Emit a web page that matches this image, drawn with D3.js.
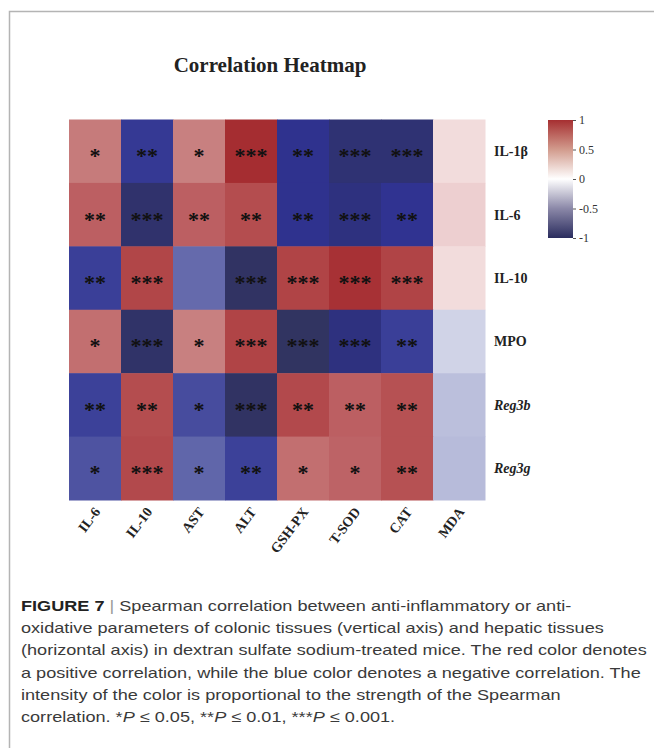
<!DOCTYPE html>
<html>
<head>
<meta charset="utf-8">
<script src="https://cdn.jsdelivr.net/npm/d3@7"></script>
<style>
  body { margin: 0; background: #fff; }
  svg { display: block; }
</style>
</head>
<body>
<svg id="fig" width="654" height="748"></svg>
<script>
// Colonic parameters (rows) vs hepatic parameters (columns)
const rowLabels = ["IL-1β", "IL-6", "IL-10", "MPO", "Reg3b", "Reg3g"];
const italicRows = ["Reg3b", "Reg3g"];
const colLabels = ["IL-6", "IL-10", "AST", "ALT", "GSH-PX", "T-SOD", "CAT", "MDA"];

// Spearman rho, one array per row
const rhoIL1b  = [0.46, -0.68, 0.44, 0.97, -0.76, -0.88, -0.88, 0.10];
const rhoIL6   = [0.60, -0.92, 0.60, 0.70, -0.76, -0.82, -0.74, 0.15];
const rhoIL10  = [-0.62, 0.74, -0.42, -0.97, 0.75, 0.93, 0.75, 0.10];
const rhoMPO   = [0.52, -0.94, 0.44, 0.75, -0.98, -0.82, -0.62, -0.13];
const rhoReg3b = [-0.60, 0.70, -0.55, -0.97, 0.72, 0.60, 0.68, -0.20];
const rhoReg3g = [-0.52, 0.72, -0.44, -0.60, 0.52, 0.58, 0.68, -0.21];

// Significance marks, one array per row
const sigIL1b  = ["*", "**", "*", "***", "**", "***", "***", ""];
const sigIL6   = ["**", "***", "**", "**", "**", "***", "**", ""];
const sigIL10  = ["**", "***", "", "***", "***", "***", "***", ""];
const sigMPO   = ["*", "***", "*", "***", "***", "***", "**", ""];
const sigReg3b = ["**", "**", "*", "***", "**", "**", "**", ""];
const sigReg3g = ["*", "***", "*", "**", "*", "*", "**", ""];

const legendTicks = [1, 0.5, 0, -0.5, -1];

const titleText = "Correlation Heatmap";

// Caption: each line is a list of [text, style] segments
const captionLines = [
  [["FIGURE 7", "bold"], [" | ", "sep"], ["Spearman correlation between anti-inflammatory or anti-", ""]],
  [["oxidative parameters of colonic tissues (vertical axis) and hepatic tissues", ""]],
  [["(horizontal axis) in dextran sulfate sodium-treated mice. The red color denotes", ""]],
  [["a positive correlation, while the blue color denotes a negative correlation. The", ""]],
  [["intensity of the color is proportional to the strength of the Spearman", ""]],
  [["correlation. *", ""], ["P", "ital"], [" ≤ 0.05, **", ""], ["P", "ital"], [" ≤ 0.01, ***", ""], ["P", "ital"], [" ≤ 0.001.", ""]]
];

const rhoRows = [rhoIL1b, rhoIL6, rhoIL10, rhoMPO, rhoReg3b, rhoReg3g];
const sigRows = [sigIL1b, sigIL6, sigIL10, sigMPO, sigReg3b, sigReg3g];

const cells = [];
rowLabels.forEach((r, i) => {
  colLabels.forEach((c, j) => {
    cells.push({ row: r, col: c, rho: rhoRows[i][j], sig: sigRows[i][j] });
  });
});

const serif = "'Liberation Serif', 'Times New Roman', serif";
const sans = "'Liberation Sans', Arial, Helvetica, sans-serif";

const svg = d3.select("#fig");

// Frame
svg.append("path")
  .attr("d", "M9.5,748 L9.5,11.5 L654,11.5")
  .attr("fill", "none")
  .attr("stroke", "#b4b4b4")
  .attr("stroke-width", 1.5);

// Title
svg.append("text")
  .attr("x", 270).attr("y", 72)
  .attr("text-anchor", "middle")
  .attr("font-family", serif)
  .attr("font-weight", "bold")
  .attr("font-size", 21)
  .attr("fill", "#222")
  .text(titleText);

// Scales
const x = d3.scaleBand().domain(colLabels).range([69, 485]).padding(0);
const y = d3.scaleBand().domain(rowLabels).range([119.5, 500]).padding(0);

const cellColor = d3.scaleLinear()
  .domain([-1, -0.85, -0.75, -0.6, -0.5, -0.4, -0.2, 0, 0.1, 0.2, 0.45, 0.6, 0.75, 1])
  .range(["#32345e", "#2e3178", "#2f3290", "#3c4199", "#5258a3", "#6a6fae", "#bbbfdc", "#f8f8fb",
          "#f2dcdc", "#e8c2c4", "#c77d7d", "#bc5f62", "#b04446", "#a32a2e"])
  .clamp(true);

// Tiles
const g = svg.append("g");
g.selectAll("rect.tile")
  .data(cells)
  .join("rect")
  .attr("class", "tile")
  .attr("x", d => x(d.col))
  .attr("y", d => y(d.row))
  .attr("width", x.bandwidth() + 0.5)
  .attr("height", y.bandwidth() + 0.5)
  .attr("fill", d => cellColor(d.rho));

// Significance stars
g.selectAll("text.sig")
  .data(cells.filter(d => d.sig))
  .join("text")
  .attr("class", "sig")
  .attr("x", d => x(d.col) + x.bandwidth() / 2)
  .attr("y", d => y(d.row) + y.bandwidth() / 2 + 12)
  .attr("text-anchor", "middle")
  .attr("font-family", serif)
  .attr("font-weight", "bold")
  .attr("font-size", 22)
  .attr("fill", "#111")
  .text(d => d.sig);

// Row labels (right)
svg.append("g").selectAll("text")
  .data(rowLabels)
  .join("text")
  .attr("x", 494)
  .attr("y", d => y(d) + y.bandwidth() / 2 + 5)
  .attr("font-family", serif)
  .attr("font-weight", "bold")
  .attr("font-style", d => italicRows.includes(d) ? "italic" : "normal")
  .attr("font-size", 14)
  .attr("fill", "#222")
  .text(d => d);

// Column labels (bottom, rotated)
svg.append("g").selectAll("text")
  .data(colLabels)
  .join("text")
  .attr("transform", d => `translate(${x(d) + x.bandwidth() / 2 + 6},512) rotate(-53)`)
  .attr("text-anchor", "end")
  .attr("font-family", serif)
  .attr("font-weight", "bold")
  .attr("font-size", 14)
  .attr("fill", "#222")
  .text(d => d);

// Colour legend
const legendStops = [
  { v: 1, c: "#a62f31" },
  { v: 0.5, c: "#d29b8d" },
  { v: 0, c: "#ffffff" },
  { v: -0.5, c: "#8b88a8" },
  { v: -1, c: "#2a2c5e" }
];
const ly = d3.scaleLinear().domain([-1, 1]).range([238, 120]);
const defs = svg.append("defs");
const grad = defs.append("linearGradient")
  .attr("id", "legendGrad")
  .attr("x1", 0).attr("y1", 0).attr("x2", 0).attr("y2", 1);
grad.selectAll("stop")
  .data(legendStops)
  .join("stop")
  .attr("offset", d => (ly(d.v) - 120) / 118)
  .attr("stop-color", d => d.c);

svg.append("rect")
  .attr("x", 548).attr("y", 120)
  .attr("width", 25).attr("height", 118)
  .attr("fill", "url(#legendGrad)");

const lAxis = svg.append("g")
  .attr("transform", "translate(573,0)")
  .call(d3.axisRight(ly).tickValues(legendTicks).tickSize(3).tickPadding(3).tickFormat(d => String(d)));
lAxis.select(".domain").remove();
lAxis.selectAll("line").attr("stroke", "#555");
lAxis.selectAll("text")
  .attr("font-family", serif)
  .attr("font-size", 12)
  .attr("fill", "#333");

// Caption, condensed to the column width
const cap = svg.append("g");
const capTexts = captionLines.map((segs, i) => {
  const t = cap.append("text")
    .attr("x", 21)
    .attr("y", 611 + i * 22.2)
    .attr("font-family", sans)
    .attr("font-size", 15)
    .attr("fill", "#3a3a3a");
  segs.forEach(([s, style]) => {
    const ts = t.append("tspan").text(s);
    if (style === "bold") ts.attr("font-weight", "bold").attr("fill", "#222");
    if (style === "sep") ts.attr("fill", "#9a9a9a");
    if (style === "ital") ts.attr("font-style", "italic");
  });
  return t;
});
// one shared horizontal factor, set so the fourth line spans the text column
const k = (641 - 21) / capTexts[3].node().getComputedTextLength();
capTexts.forEach(t => t.attr("transform", `translate(21,0) scale(${k},1) translate(-21,0)`));
</script>
</body>
</html>
